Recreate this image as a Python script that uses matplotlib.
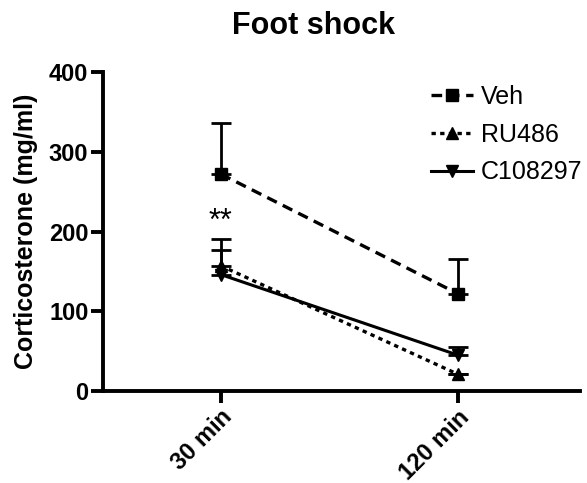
import numpy as np
import matplotlib.pyplot as plt

plt.rcParams['font.family'] = ['Liberation Sans', 'DejaVu Sans']

# data
times = ['30 min', '120 min']
veh = [272, 122]
veh_sem = [64, 44]
ru486 = [157, 21]
ru486_sem = [33, 0]
c108297 = [146, 45]
c108297_sem = [31, 10]

x = np.arange(len(times))

fig = plt.figure(figsize=(5.87, 4.83), dpi=100)
ax = fig.add_axes([103 / 587, 92 / 483, 477 / 587, 319 / 483])

err_kw = dict(capsize=7, capthick=2, elinewidth=2, ecolor='black')

# upper error bars only
ax.errorbar(x, veh, yerr=[np.zeros(2), veh_sem], fmt='none', **err_kw)
ax.errorbar(x, ru486, yerr=[np.zeros(2), ru486_sem], fmt='none', **err_kw)
ax.errorbar(x, c108297, yerr=[np.zeros(2), c108297_sem], fmt='none', **err_kw)

ax.plot(x, veh, color='black', lw=2.4, dashes=(3.2, 2), marker='s', ms=9,
        label='Veh')
ax.plot(x, ru486, color='black', lw=2.4, dashes=(1.3, 1.3), marker='^', ms=9,
        label='RU486')
ax.plot(x, c108297, color='black', lw=2.2, marker='v', ms=9,
        label='C108297')

ax.text(x[0], 212, '**', ha='center', va='center', fontsize=22)

ax.set_xlim(-0.497, 1.515)
ax.set_ylim(0, 400)
ax.set_yticks([0, 100, 200, 300, 400])
ax.set_xticks(x)
ax.set_xticklabels(times, rotation=45, ha='right', rotation_mode='anchor',
                   fontsize=17, fontweight='bold')
for lab in ax.get_yticklabels():
    lab.set_fontsize(17)
    lab.set_fontweight('bold')

for s in ['top', 'right']:
    ax.spines[s].set_visible(False)
for s in ['left', 'bottom']:
    ax.spines[s].set_linewidth(2.8)
ax.tick_params(width=2.8, length=8.5, pad=2)

ax.set_ylabel('Corticosterone (mg/ml)', fontsize=18, fontweight='bold',
              labelpad=8)
fig.text(313 / 587, 1 - 26 / 483, 'Foot shock', ha='center', va='center',
         fontsize=22, fontweight='bold')

ax.legend(loc='upper left', bbox_to_anchor=(0.64, 1.03), frameon=False,
          fontsize=18, handlelength=1.7, handletextpad=0.3, labelspacing=0.55)

fig.savefig('out.png', dpi=100)
